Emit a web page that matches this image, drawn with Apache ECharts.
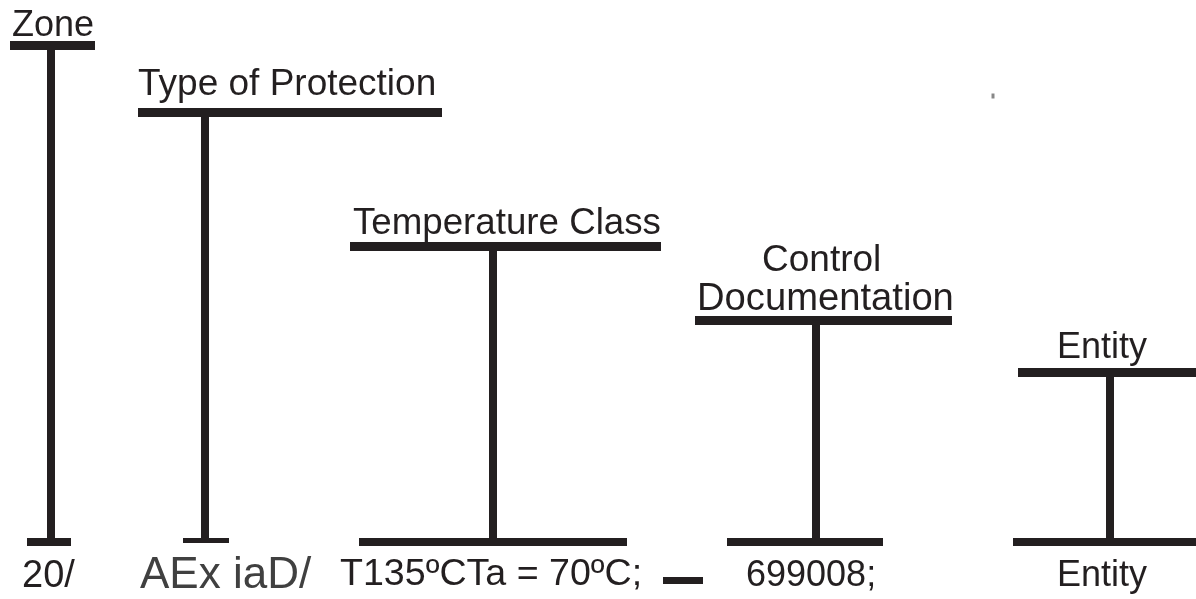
<!DOCTYPE html>
<html>
<head>
<meta charset="utf-8">
<title>Marking</title>
<script src="https://cdn.jsdelivr.net/npm/echarts@6/dist/echarts.min.js"></script>
<style>
  html, body { margin: 0; padding: 0; background: #fff; }
  #main { width: 1196px; height: 599px; }
</style>
</head>
<body>
<div id="main"></div>
<script>
// field names above the brackets, marking values below
const headings = ['Zone', 'Type of Protection', 'Temperature Class', 'Control', 'Documentation', 'Entity'];
const markings = ['20/', 'AEx iaD/', 'T135ºCTa = 70ºC;', '699008;', 'Entity'];

// bracket layout (pixel space, y grows down)
const topLeft = [10, 138, 350, 695, 1018];
const topRight = [95, 442, 661, 952, 1196];
const topY = [45, 112, 246, 320.5, 372];
const stemX = [51, 205, 493, 816, 1110];
const footLeft = [27, 183, 359, 727, 1013];
const footRight = [71, 229, 627, 883, 1196];
const footY = [542, 540, 542, 542, 542];
const footWidth = [8, 5, 8, 8, 8];

const headingPos = [[12, 26], [138, 85], [353, 224], [762, 261], [697, 299], [1057, 348]];
const headingSize = [36, 37, 36.7, 37, 38.2, 36];
const markingPos = [[22, 577], [140, 576], [340, 575], [746, 576], [1057, 576]];
const markingSize = [38, 44, 37.6, 36, 36];

const ink = '#231f20';

const segs = [];
for (let i = 0; i < stemX.length; i++) {
  segs.push({ coords: [[topLeft[i], topY[i]], [topRight[i], topY[i]]], lineStyle: { width: 9 } });
  segs.push({ coords: [[stemX[i], topY[i]], [stemX[i], footY[i]]], lineStyle: { width: 8 } });
  segs.push({ coords: [[footLeft[i], footY[i]], [footRight[i], footY[i]]], lineStyle: { width: footWidth[i] } });
}
// dash between temperature and documentation
segs.push({ coords: [[663, 580], [703, 580]], lineStyle: { width: 7 } });

const textData = [];
headings.forEach((h, i) => {
  textData.push({ value: [headingPos[i][0], headingPos[i][1], h], label: { fontSize: headingSize[i] } });
});
markings.forEach((m, i) => {
  textData.push({
    value: [markingPos[i][0], markingPos[i][1], m],
    label: { fontSize: markingSize[i], color: i === 1 ? '#404040' : ink }
  });
});

const chart = echarts.init(document.getElementById('main'));
chart.setOption({
  animation: false,
  backgroundColor: '#fff',
  grid: { left: 0, right: 0, top: 0, bottom: 0 },
  xAxis: { type: 'value', min: 0, max: 1196, show: false },
  yAxis: { type: 'value', min: 0, max: 599, inverse: true, show: false },
  series: [
    {
      type: 'lines',
      coordinateSystem: 'cartesian2d',
      silent: true,
      lineStyle: { color: ink, opacity: 1, curveness: 0, cap: 'butt' },
      data: segs
    },
    {
      type: 'scatter',
      symbolSize: 0,
      silent: true,
      itemStyle: { opacity: 1 },
      label: {
        show: true,
        position: 'inside',
        align: 'left',
        verticalAlign: 'middle',
        fontFamily: 'Liberation Sans',
        color: ink,
        opacity: 1,
        formatter: p => p.value[2]
      },
      data: textData
    },
    {
      // stray speck in the scan
      type: 'scatter',
      symbol: 'rect',
      symbolSize: [3, 5],
      silent: true,
      itemStyle: { color: '#888', opacity: 1 },
      data: [[993, 96]]
    }
  ]
});
</script>
</body>
</html>
